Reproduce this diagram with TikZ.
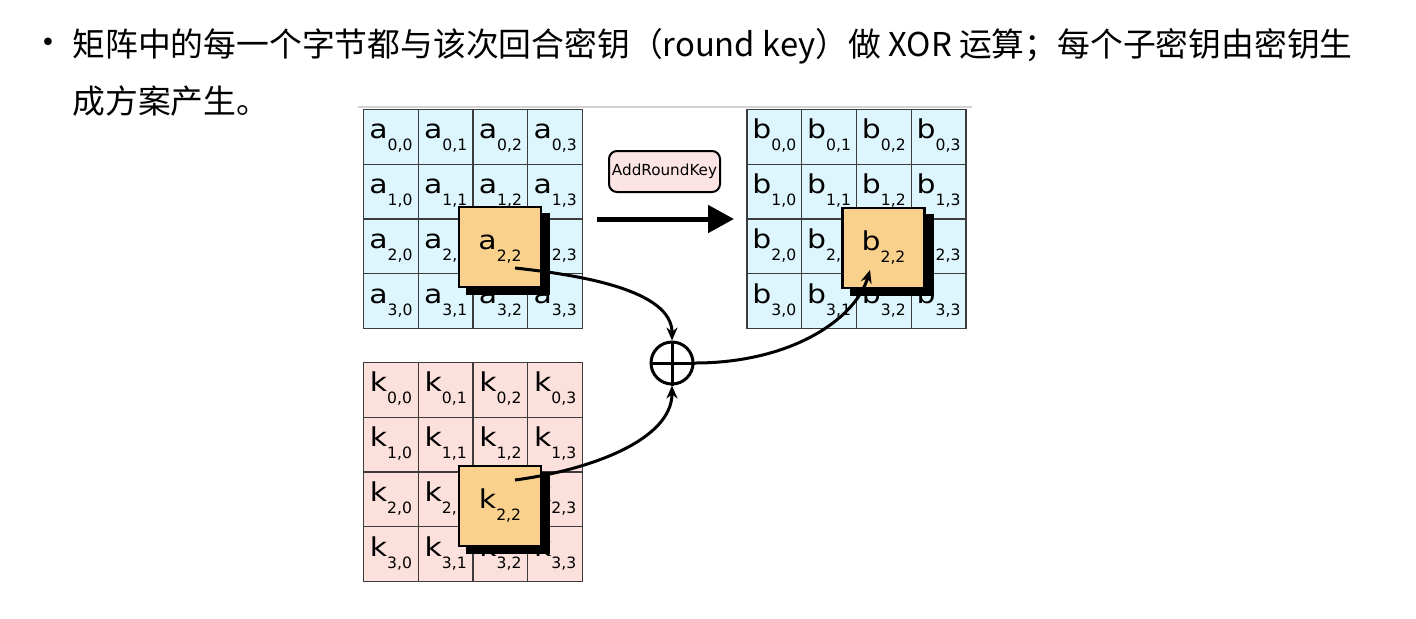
\documentclass[tikz,border=0pt]{standalone}
\usepackage{fontspec}
\setmainfont{DejaVu Sans}
\newfontfamily\cjk{Noto Sans CJK SC}
\newfontfamily\cellfont[FakeStretch=1.15]{DejaVu Sans}
\usetikzlibrary{arrows.meta}
\definecolor{cellblue}{RGB}{221,245,252}
\definecolor{cellpink}{RGB}{252,224,220}
\definecolor{keyorange}{RGB}{250,209,140}
\definecolor{boxpink}{RGB}{253,228,228}
\definecolor{gridline}{RGB}{60,60,60}
\newcommand\ent[2]{{\cellfont\fontsize{13pt}{14pt}\selectfont #1}\raisebox{-6pt}{\fontsize{7.8pt}{8pt}\selectfont #2}}
\begin{document}
\begin{tikzpicture}[x=0.5pt,y=-0.5pt,
  cellbox/.style={draw=gridline, line width=0.7pt, minimum width=27.375pt, minimum height=27.375pt,
    inner sep=0pt, text height=8.5pt, text depth=6.5pt},
  shadowbox/.style={fill=black, draw=none, minimum width=42pt, minimum height=41pt, inner sep=0pt},
  keybox/.style={fill=keyorange, draw=black, line width=1.2pt, minimum width=41pt, minimum height=40pt,
    inner sep=0pt, text height=8.5pt, text depth=6.5pt},
  conn/.style={line width=1.5pt, -{Stealth[length=6.5pt,width=5.5pt]}},
  opbox/.style={draw=black, line width=1pt, fill=boxpink, rounded corners=4pt, minimum width=55.5pt,
    minimum height=20.5pt, inner sep=0pt, font=\fontsize{7.6pt}{8pt}\selectfont},
  txt/.style={font=\cjk\fontsize{16.4pt}{18pt}\selectfont, inner sep=0pt, anchor=base west}
]
\useasboundingbox (0,0) rectangle (1416,618);
% text
\node[inner sep=0pt, font=\fontsize{13pt}{13pt}\selectfont] (bul) at (48,45) {•};
\node[txt] (l1) at (72,56) {矩阵中的每一个字节都与该次回合密钥（round key）做 XOR 运算；每个子密钥由密钥生};
\node[txt] (l2) at (72,113) {成方案产生。};
% thin top line
\draw[gray!35, line width=0.6pt] (358,107) -- (972,107);
% grids
\foreach \r in {0,...,3} {
  \foreach \c in {0,...,3} {
    \node[cellbox, fill=cellblue] (a\r\c) at ({363.5+54.75*(\c+0.5)},{109.5+54.75*(\r+0.5)}) {\ent{a}{\r,\c}};
    \node[cellbox, fill=cellblue] (b\r\c) at ({747+54.75*(\c+0.5)},{109.5+54.75*(\r+0.5)}) {\ent{b}{\r,\c}};
    \node[cellbox, fill=cellpink] (k\r\c) at ({363.5+54.75*(\c+0.5)},{362.5+54.75*(\r+0.5)}) {\ent{k}{\r,\c}};
  }
}
% shadows and highlighted cells
\node[shadowbox] (ash) at (508,254) {};
\node[shadowbox] (bsh) at (891.5,255) {};
\node[shadowbox] (ksh) at (508,513) {};
\node[keybox] (A) at (500,247) {\ent{a}{2,2}};
\node[keybox] (B) at (883.5,248) {\ent{b}{2,2}};
\node[keybox] (K) at (500,506) {\ent{k}{2,2}};
% xor
\node[draw=black, line width=1.5pt, circle, minimum size=21pt, inner sep=0pt] (xor) at (672,363) {};
\draw[line width=1.5pt] (xor.north) -- (xor.south);
\draw[line width=1.5pt] (xor.west) -- (xor.east);
% connectors
\coordinate (as) at (515,268);
\coordinate (ks) at (515,480);
\coordinate (bt) at (870,270);
\draw[conn] (as) .. controls (580,275) and (672,290) .. (xor.north);
\draw[conn] (ks) .. controls (590,470) and (672,440) .. (xor.south);
\draw[conn] (xor.east) .. controls (790,363) and (855,320) .. (bt);
% operation
\node[opbox] (op) at (664.5,171.5) {AddRoundKey};
\coordinate (arrs) at (597,219);
\coordinate (arre) at (734,219);
\draw[line width=2.5pt, -{Triangle[length=13pt,width=13.5pt]}] (arrs) -- (arre);
\end{tikzpicture}
\end{document}
